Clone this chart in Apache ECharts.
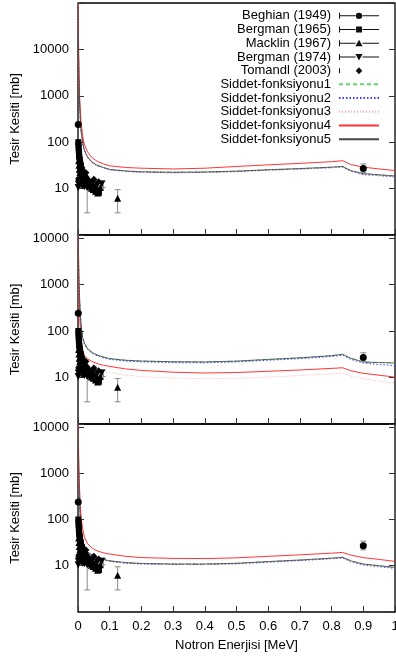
<!DOCTYPE html>
<html><head><meta charset="utf-8">
<script src="https://cdn.jsdelivr.net/npm/echarts@6/dist/echarts.min.js"></script>
<style>html,body{margin:0;padding:0;background:#fff}#c{width:396px;height:656px}</style>
</head><body><div id="c"></div>
<script>
// ---------------- data ----------------
const xTicks = [0,0.1,0.2,0.3,0.4,0.5,0.6,0.7,0.8,0.9,1];
const yTickLabels = [10,100,1000,10000];
const funcNames = ['Siddet-fonksiyonu1','Siddet-fonksiyonu2','Siddet-fonksiyonu3','Siddet-fonksiyonu4','Siddet-fonksiyonu5'];
const curveX = [0.0001,0.0003,0.0006,0.001,0.002,0.003,0.005,0.0075,0.01,0.015,0.02,0.03,0.045,0.06,0.08,0.1,0.15,0.2,0.3,0.4,0.5,0.6,0.7,0.8,0.835,0.86,0.9,0.95,1.0];

// panel 1 (top)
const p1f1 = [200000,80000,40000,20000,6000,2200,700,300,170,95,68,48,37,32,28.5,26,24,23,22.5,22.8,23.8,25.5,27,29,30,24.5,21,19.8,18.7];
const p1f2 = [190000,78000,39000,19500,5800,2150,680,292,165,92,66,47,36,31,27.8,25.4,23.5,22.5,22,22.3,23.2,24.9,26.4,28.3,29.3,23.6,20,19,17.8];
const p1f3 = [190000,77000,38500,19300,5700,2100,670,290,164,91,65,46.5,35.8,31,27.6,25.2,23.3,22.3,21.8,22.1,23,24.7,26.2,28.1,29.1,23.7,20.3,19.2,18.1];
const p1f4 = [300000,150000,80000,40000,10000,3500,1000,450,260,130,90,62,46,39,34,31,28.5,27.5,26.5,27.5,30,32.5,35,38,40,33,29,26.5,24.5];
const p1f5 = [200000,80000,40000,20000,6000,2200,700,300,170,95,68,48,37,32,28.5,26,24,23,22.5,22.8,23.8,25.5,27,29,30,24.5,21,19.8,18.7];
// panel 2 (middle)
const p2f1 = [200000,60000,25000,10000,3000,1300,500,220,130,72,55,42,34.5,30.5,27.5,25.5,23.5,22.6,21.8,21.6,22.5,24.5,26.5,29.5,31.5,26,21.5,21,20.5];
const p2f2 = [190000,57000,24000,9600,2900,1250,480,211,125,69,53,40.3,33,29.3,26.4,24.5,22.6,21.7,20.9,20.7,21.6,23.5,25.4,28.3,30.2,24.5,20.5,19,18];
const p2f3 = [60000,18000,7500,3000,900,400,160,75,45,26,20,17,15,14,13.3,12.8,11.3,10.4,9.7,9.4,9.6,10.2,11,12,12.4,10.8,9.4,8.4,7.5];
const p2f4 = [100000,30000,12000,5000,1500,650,250,110,65,38,30,25,22,20,18.3,17.3,15.3,14.2,13,12.5,12.8,13.6,14.5,15.7,16.2,14,12.3,11.2,10.2];
const p2f5 = [200000,60000,25000,10000,3000,1300,500,220,130,72,55,42,34.5,30.5,27.5,25.5,23.5,22.6,21.8,21.6,22.5,24.5,26.5,29.5,31.5,26,21.5,21,20.5];
// panel 3 (bottom)
const p3f1 = [100000,30000,12000,5000,1400,600,230,100,60,34,26,20,17,15,13.7,12.8,11.7,11.2,10.9,10.9,11.3,12.3,13.3,14.6,15.2,12.8,10.9,10,9.2];
const p3f2 = [97000,29000,11600,4850,1360,580,223,97,58,33,25.2,19.4,16.5,14.5,13.3,12.4,11.3,10.9,10.6,10.6,11,11.9,12.9,14.2,14.7,12.2,10.4,9.5,8.8];
const p3f3 = [98000,29400,11800,4900,1370,590,225,98,59,33.3,25.5,19.6,16.7,14.7,13.4,12.5,11.5,11,10.7,10.7,11.1,12.1,13,14.3,14.9,12.5,10.7,9.8,9];
const p3f4 = [200000,60000,25000,10000,2800,1200,450,200,110,60,42,30,24,21,19,17.9,16,15,14.4,14.3,14.8,16,17.2,18.7,19.4,17,15,13.7,12.4];
const p3f5 = [100000,30000,12000,5000,1400,600,230,100,60,34,26,20,17,15,13.7,12.8,11.7,11.2,10.9,10.9,11.3,12.3,13.3,14.6,15.2,12.8,10.9,10,9.2];

// experimental data [energy MeV, cross section mb]
const beghian = [[0.0008,240],[0.9,27]];
const bergman65 = [[0.001,100],[0.0015,88],[0.002,76],[0.0025,66],[0.003,60],[0.0035,54],[0.004,48],[0.005,43],[0.006,38],[0.007,35],[0.008,32],[0.009,29],[0.01,27],[0.012,25],[0.014,23],[0.016,21],[0.018,20],[0.02,18.5],[0.023,17],[0.026,16],[0.029,15],[0.032,14],[0.035,13],[0.038,12.5],[0.042,11.5],[0.046,11],[0.05,10.2],[0.054,9.6],[0.058,9],[0.062,8.5],[0.066,8.1]];
const macklin = [[0.002,40],[0.003,32],[0.004,26],[0.006,22],[0.008,19],[0.011,17],[0.015,16],[0.02,14],[0.025,13.5],[0.03,12],[0.036,11.2],[0.042,10.2],[0.048,9.6],[0.055,8.8],[0.062,8],[0.07,10.5],[0.125,6.2]];
const bergman74 = [[0.0005,10.5],[0.001,12.5],[0.002,14],[0.004,15],[0.007,13],[0.01,12],[0.015,11.5],[0.02,11],[0.03,10.5],[0.045,13],[0.06,12],[0.075,12.5]];
const tomandl = [[0.005,45],[0.008,35],[0.012,28],[0.025,22],[0.05,16],[0.065,14]];
// error bars [x, y, yLow, yHigh, xLow, xHigh]
const errBars = [[0.9,27,22,34,0.9,0.9],[0.125,6.2,3.0,9.5,0.125,0.125],[0.029,9,3.0,14,0.029,0.029],[0.04,10.5,10.5,10.5,0.0,0.08],[0.065,12,10,14,0.065,0.065],[0.078,12.5,10.5,14.5,0.078,0.078]];

// ---------------- chart ----------------
const FONT = "'Liberation Sans', Arial, Helvetica, sans-serif";
const panelCurves = [[p1f1,p1f2,p1f3,p1f4,p1f5],[p2f1,p2f2,p2f3,p2f4,p2f5],[p3f1,p3f2,p3f3,p3f4,p3f5]];
const funcStyles = [
  {color:'#66d866', width:1, type:[4,3]},
  {color:'#3a3aff', width:1, type:[1.5,2]},
  {color:'#ffa8a8', width:1, type:[1,2]},
  {color:'#ff3535', width:1, type:'solid'},
  {color:'#444444', width:0.8, type:'solid'}
];
const grids = [
  {left:78, top:3, width:317, height:232},
  {left:78, top:235, width:317, height:189},
  {left:78, top:424, width:317, height:188}
];
const yMaxes = [100000, 11600, 11600];

const expSets = [
  {name:'Beghian (1949)', data:beghian, symbol:'circle', size:7, rot:0},
  {name:'Bergman (1965)', data:bergman65, symbol:'rect', size:6, rot:0},
  {name:'Macklin (1967)', data:macklin, symbol:'triangle', size:7, rot:0},
  {name:'Bergman (1974)', data:bergman74, symbol:'triangle', size:7, rot:180},
  {name:'Tomandl (2003)', data:tomandl, symbol:'diamond', size:7, rot:0}
];

const lineCap = 'M0,1h1v6h-1zM1,3.5h15.5v1h-15.5zM23.5,3.5h16.5v1h-16.5z';
const legendIcons = [
  'path://' + lineCap + 'M16.8,4a3.2,3.2 0 1,0 6.4,0a3.2,3.2 0 1,0 -6.4,0zM39.95,0h0.05v0.05h-0.05zM39.95,7.95h0.05v0.05h-0.05z',
  'path://' + lineCap + 'M17,1h6v6h-6zM39.95,0h0.05v0.05h-0.05zM39.95,7.95h0.05v0.05h-0.05z',
  'path://' + lineCap + 'M20,0.5L23.6,7L16.4,7zM39.95,0h0.05v0.05h-0.05zM39.95,7.95h0.05v0.05h-0.05z',
  'path://' + lineCap + 'M16.4,1L23.6,1L20,7.5zM39.95,0h0.05v0.05h-0.05zM39.95,7.95h0.05v0.05h-0.05z',
  'path://M0,1.5h1v5h-1zM20,0.5L23.3,4L20,7.5L16.7,4zM39.95,0h0.05v0.05h-0.05zM39.95,7.95h0.05v0.05h-0.05z'
];

const xAxes = grids.map((g, i) => ({
  type:'value', gridIndex:i, min:0, max:1, interval:0.1,
  axisLine:{show:false},
  axisTick:{show:true, inside:true, length:6, lineStyle:{color:'#333', width:1}},
  splitLine:{show:false},
  axisLabel:{show:i===2, margin:8, fontSize:13, fontFamily:FONT, color:'#000',
    formatter: v => String(+(+v).toFixed(1))},
  name: i===2 ? 'Notron Enerjisi [MeV]' : '',
  nameLocation:'middle', nameGap:27,
  nameTextStyle:{fontSize:13, fontFamily:FONT, color:'#000'}
}));

const yFmt = v => { const r = Math.round(v); return yTickLabels.indexOf(r) >= 0 ? String(r) : ''; };
const yAxes = [];
grids.forEach((g, i) => {
  yAxes.push({
    type:'log', logBase:10, gridIndex:i, min:1, max:yMaxes[i], position:'left',
    axisLine:{show:false},
    axisTick:{show:true, inside:true, length:6, lineStyle:{color:'#333', width:1}},
    minorTick:{show:false}, splitLine:{show:false},
    axisLabel:{show:true, margin:9, fontSize:13, fontFamily:FONT, color:'#000', formatter:yFmt, showMinLabel:false},
    name:'Tesir Kesiti [mb]', nameLocation:'middle', nameGap:55,
    nameTextStyle:{fontSize:13, fontFamily:FONT, color:'#000'}
  });
  yAxes.push({
    type:'log', logBase:10, gridIndex:i, min:1, max:yMaxes[i], position:'right',
    axisLine:{show:false},
    axisTick:{show:true, inside:true, length:6, lineStyle:{color:'#333', width:1}},
    minorTick:{show:false}, splitLine:{show:false},
    axisLabel:{show:false}
  });
});

const series = [];
function errRender(params, api) {
  const x = api.value(0), y = api.value(1), yl = api.value(2), yh = api.value(3), xl = api.value(4), xh = api.value(5);
  const children = [];
  const st = {stroke:'#8a8a8a', lineWidth:1, fill:null};
  if (yh > yl) {
    const a = api.coord([x, yl]), b = api.coord([x, yh]);
    children.push({type:'line', shape:{x1:a[0], y1:a[1], x2:b[0], y2:b[1]}, style:st});
    children.push({type:'line', shape:{x1:a[0]-3, y1:a[1], x2:a[0]+3, y2:a[1]}, style:st});
    children.push({type:'line', shape:{x1:b[0]-3, y1:b[1], x2:b[0]+3, y2:b[1]}, style:st});
  }
  if (xh > xl) {
    const a = api.coord([xl, y]), b = api.coord([xh, y]);
    children.push({type:'line', shape:{x1:a[0], y1:a[1], x2:b[0], y2:b[1]}, style:st});
    children.push({type:'line', shape:{x1:b[0], y1:b[1]-3, x2:b[0], y2:b[1]+3}, style:st});
  }
  return {type:'group', children};
}
grids.forEach((g, p) => {
  panelCurves[p].forEach((vals, f) => {
    series.push({
      type:'line', name:funcNames[f], xAxisIndex:p, yAxisIndex:p*2,
      data: curveX.map((x, k) => [x, vals[k]]),
      symbol:'none', showSymbol:false, clip:true, silent:true, z:2,
      lineStyle:{color:funcStyles[f].color, width:funcStyles[f].width, type:funcStyles[f].type},
      itemStyle:{color:funcStyles[f].color}
    });
  });
  series.push({
    type:'custom', name:'errorbars', xAxisIndex:p, yAxisIndex:p*2, clip:true, z:3, silent:true,
    renderItem: errRender, data: errBars
  });
  expSets.forEach(s => {
    series.push({
      type:'scatter', name:s.name, xAxisIndex:p, yAxisIndex:p*2, data:s.data, clip:true,
      symbol:s.symbol, symbolSize:s.size, symbolRotate:s.rot, z:4, silent:true,
      itemStyle:{color:'#000', opacity:1}
    });
  });
});

const legendData = expSets.map((s, i) => ({name:s.name, icon:legendIcons[i], itemStyle:{color:'#111', opacity:1}}))
  .concat(funcNames.map(n => ({name:n, itemStyle:{color:'rgba(0,0,0,0)', borderColor:'rgba(0,0,0,0)', borderWidth:0, opacity:0}})));

const chart = echarts.init(document.getElementById('c'), null, {renderer:'canvas'});
chart.setOption({
  animation:false,
  backgroundColor:'#fff',
  grid: grids.map(g => Object.assign({show:true, borderColor:'#000', borderWidth:1.3, backgroundColor:'transparent', containLabel:false, outerBoundsMode:'none'}, g)),
  xAxis: xAxes,
  yAxis: yAxes,
  legend: {
    orient:'vertical', align:'right', right:16, top:9, padding:0, itemGap:0,
    itemWidth:40, itemHeight:8, selectedMode:false,
    textStyle:{fontSize:13, fontFamily:FONT, color:'#000', lineHeight:13.7, padding:[0,3,0,0]},
    data: legendData
  },
  series
});
</script>
</body></html>
